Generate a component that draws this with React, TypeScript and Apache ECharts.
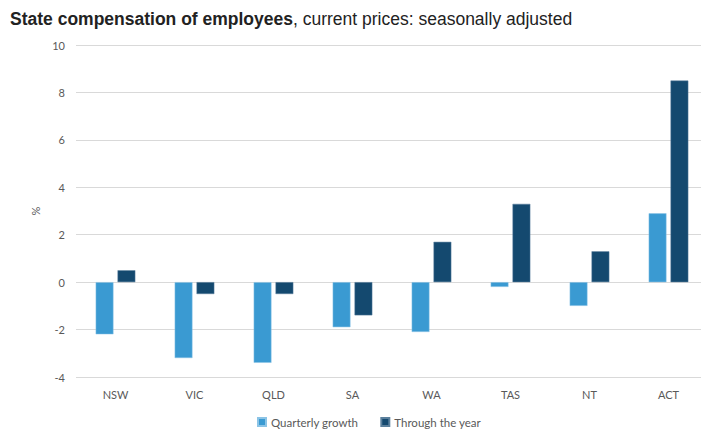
import React, { useEffect, useRef } from "react";
import * as echarts from "echarts";

const categories = ["NSW", "VIC", "QLD", "SA", "WA", "TAS", "NT", "ACT"];
const quarterlyGrowth = [-2.2, -3.2, -3.4, -1.9, -2.1, -0.2, -1.0, 2.9];
const throughTheYear = [0.5, -0.5, -0.5, -1.4, 1.7, 3.3, 1.3, 8.5];
const seriesNames = ["Quarterly growth", "Through the year"];

export default function App() {
  const ref = useRef<HTMLDivElement>(null);
  useEffect(() => {
    const chart = echarts.init(ref.current!, null, { renderer: "svg" });
    const labelFont = "Lato, 'Noto Sans', sans-serif";
    chart.setOption({
      animation: false,
      backgroundColor: "#ffffff",
      title: {
        left: 2,
        top: 2,
        padding: 0,
        text: "{b|State compensation of employees}{n|, current prices: seasonally adjusted}",
        textStyle: {
          rich: {
            b: { fontFamily: "'Liberation Sans', Arial, sans-serif", fontWeight: "bold", fontSize: 17.5, color: "#222222" },
            n: { fontFamily: "'Liberation Sans', Arial, sans-serif", fontWeight: "normal", fontSize: 17.5, color: "#222222" },
          },
        },
      },
      legend: {
        bottom: 0,
        left: 244,
        itemWidth: 8,
        itemHeight: 8,
        itemGap: 22,
        icon: "rect",
        textStyle: { fontFamily: labelFont, fontSize: 11.5, color: "#595959" },
        data: seriesNames,
      },
      grid: { left: 68, right: 1, top: 37, bottom: 56, containLabel: false },
      xAxis: {
        type: "category",
        data: categories,
        axisLine: { show: false },
        axisTick: { show: false },
        axisLabel: { fontFamily: labelFont, fontSize: 11, color: "#595959", margin: 12 },
      },
      yAxis: {
        type: "value",
        min: -4,
        max: 10,
        interval: 2,
        name: "%",
        nameLocation: "middle",
        nameRotate: 90,
        nameGap: 23,
        nameTextStyle: { fontFamily: labelFont, fontSize: 11, color: "#595959" },
        axisLine: { show: false },
        axisTick: { show: false },
        axisLabel: { fontFamily: labelFont, fontSize: 11, color: "#595959", margin: 11 },
        splitLine: { lineStyle: { color: "#d9d9d9", width: 1 } },
      },
      series: [
        {
          name: seriesNames[0],
          type: "bar",
          data: quarterlyGrowth,
          barWidth: "22.5%",
          barGap: "23%",
          itemStyle: { color: "#3a9ad2", borderColor: "#8cc4e6", borderWidth: 0.5 },
        },
        {
          name: seriesNames[1],
          type: "bar",
          data: throughTheYear,
          barWidth: "22.5%",
          itemStyle: { color: "#14496f", borderColor: "#5a7f9c", borderWidth: 0.5 },
        },
      ],
    });
    return () => chart.dispose();
  }, []);
  return <div ref={ref} style={{ width: 701, height: 425 }} />;
}
